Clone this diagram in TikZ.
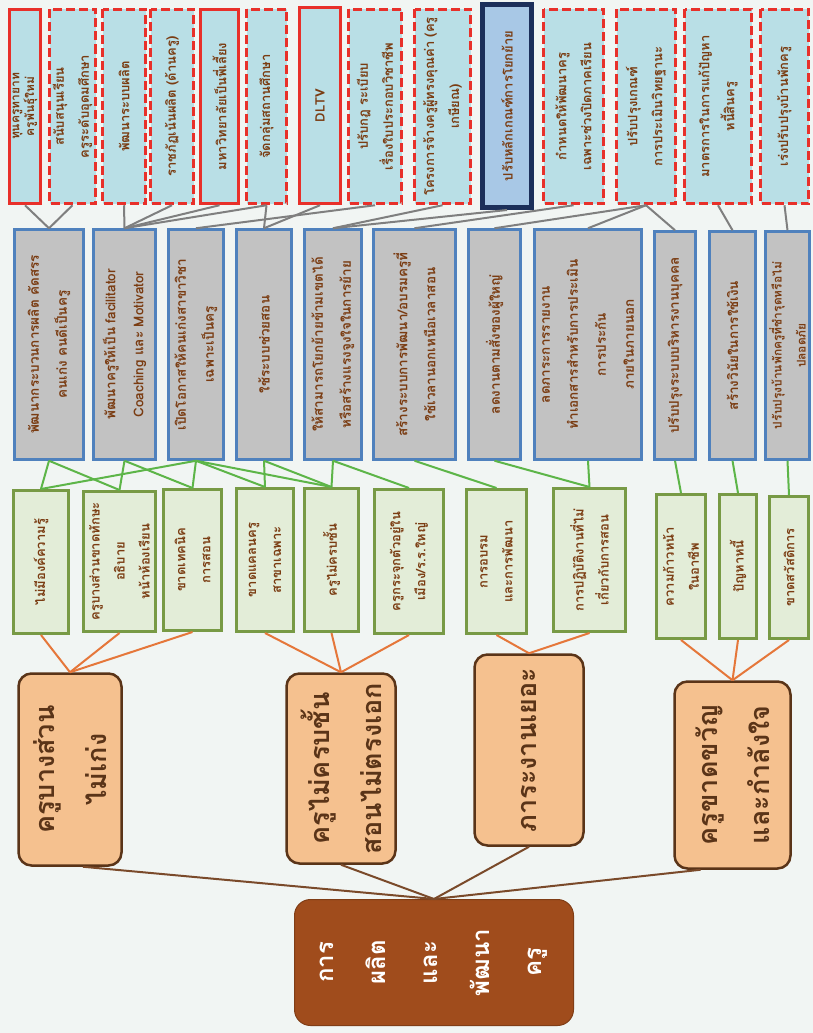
\documentclass[tikz,border=0pt]{standalone}
\usepackage{fontspec}
\newfontfamily\thaifont[Script=Thai]{Loma}
\definecolor{bgc}{HTML}{F1F5F3}
\definecolor{redc}{HTML}{E8302A}
\definecolor{lblue}{HTML}{B9DFE6}
\definecolor{lblueb}{HTML}{A8C8E6}
\definecolor{navyc}{HTML}{1C2F5A}
\definecolor{bluec}{HTML}{4F81BD}
\definecolor{grayc}{HTML}{C2C2C2}
\definecolor{greenc}{HTML}{789A45}
\definecolor{lgreen}{HTML}{E3EDD8}
\definecolor{peach}{HTML}{F5C18F}
\definecolor{dbrown}{HTML}{5A3418}
\definecolor{rootc}{HTML}{A04C1C}
\definecolor{txtc}{HTML}{7A3C12}
\definecolor{linkgray}{HTML}{7F7F7F}
\definecolor{linkgreen}{HTML}{5DB548}
\definecolor{linkorange}{HTML}{E5773A}
\definecolor{linkbrown}{HTML}{7A4A2A}
\newcommand\myboxfont{\thaifont\bfseries\fontsize{13}{25}\selectfont}
\newcommand\mybluefont{\thaifont\bfseries\fontsize{13.5}{28}\selectfont}
\newcommand\mysmallbluefont{\thaifont\bfseries\fontsize{12}{24}\selectfont}
\newcommand\mytightfont{\thaifont\bfseries\fontsize{12}{13}\selectfont}
\newcommand\mybigfont{\thaifont\bfseries\fontsize{27}{52}\selectfont}
\newcommand\myrootfont{\thaifont\bfseries\fontsize{24}{52}\selectfont}
\newcommand\bx[7]{\node[#2, minimum width={(#6)-(#4)-3}, minimum height={(#5)-(#3)-3}] (#1) at ({((#3)+(#5))/2},{((#4)+(#6))/2}) {#7};}
\tikzset{
  basebox/.style={rotate=90, align=center, inner sep=1pt, font=\myboxfont, text=txtc},
  redbox/.style={basebox, draw=redc, line width=3.5pt, fill=lblue},
  reddash/.style={redbox, dash pattern=on 9pt off 4pt},
  navybox/.style={basebox, draw=navyc, line width=5pt, fill=lblueb},
  bluebox/.style={basebox, draw=bluec, line width=2.5pt, fill=grayc, font=\mybluefont},
  greenbox/.style={basebox, draw=greenc, line width=3pt, fill=lgreen},
  orangebox/.style={rotate=90, align=center, inner sep=2pt, draw=dbrown, line width=2.5pt, fill=peach, rounded corners=13pt, font=\mybigfont, text=dbrown},
  rootbox/.style={rotate=90, align=center, inner sep=2pt, draw=rootc!80!black, line width=1pt, fill=rootc, rounded corners=16pt, font=\myrootfont, text=white},
  graylink/.style={draw=linkgray, line width=2pt},
  greenlink/.style={draw=linkgreen, line width=2pt},
  orangelink/.style={draw=linkorange, line width=2pt},
  brownlink/.style={draw=linkbrown, line width=2pt},
}
\begin{document}
\begin{tikzpicture}[x=1pt,y=-1pt]
\fill[bgc] (0,0) rectangle (813,1033);
\useasboundingbox (0,0) rectangle (813,1033);
% red row
\bx{r1}{redbox, font=\mytightfont}{8}{8}{42}{205}{ทุนครูทายาท\\ครูพันธุ์ใหม่}
\bx{r2}{reddash}{48}{8}{97}{205}{สนับสนุนเรียน\\ครูระดับอุดมศึกษา}
\bx{r3}{reddash}{101}{8}{147}{205}{พัฒนาระบบผลิต}
\bx{r4}{reddash}{149}{8}{195}{205}{ราชภัฏเน้นผลิต (ด้านครู)}
\bx{r5}{redbox}{199}{8}{240}{205}{มหาวิทยาลัยเป็นพี่เลี้ยง}
\bx{r6}{reddash}{245}{8}{288}{205}{จัดกลุ่มสถานศึกษา}
\bx{r7}{redbox}{298}{6}{342}{205}{DLTV}
\bx{r8}{reddash}{347}{8}{403}{205}{ปรับกฎ ระเบียบ\\เรื่องใบประกอบวิชาชีพ}
\bx{r9}{reddash}{413}{8}{472}{205}{โครงการจ้างครูผู้ทรงคุณค่า (ครู\\เกษียณ)}
\bx{r10}{navybox}{481}{3}{533}{209}{ปรับหลักเกณฑ์การโยกย้าย}
\bx{r11}{reddash}{542}{8}{605}{205}{กำหนดให้พัฒนาครู\\เฉพาะช่วงปิดภาคเรียน}
\bx{r12}{reddash}{615}{8}{677}{205}{ปรับปรุงเกณฑ์\\การประเมินวิทยฐานะ}
\bx{r13}{reddash}{683}{8}{753}{205}{มาตรการในการแก้ปัญหา\\หนี้สินครู}
\bx{r14}{reddash}{759}{8}{810}{205}{เร่งปรับปรุงบ้านพักครู}
% blue row
\bx{b1}{bluebox}{13}{228}{85}{461}{พัฒนากระบวนการผลิต คัดสรร\\คนเก่ง คนดีเป็นครู}
\bx{b2}{bluebox}{92}{228}{157}{461}{พัฒนาครูให้เป็น facilitator\\Coaching และ Motivator}
\bx{b3}{bluebox}{167}{228}{225}{461}{เปิดโอกาสให้คนเก่งสาขาวิชา\\เฉพาะเป็นครู}
\bx{b4}{bluebox}{235}{228}{293}{461}{ใช้ระบบช่วยสอน}
\bx{b5}{bluebox}{303}{228}{363}{461}{ให้สามารถโยกย้ายข้ามเขตได้\\หรือสร้างแรงจูงใจในการย้าย}
\bx{b6}{bluebox}{372}{228}{457}{461}{สร้างระบบการพัฒนา/อบรมครูที่\\ใช้เวลานอกเหนือเวลาสอน}
\bx{b7}{bluebox}{467}{228}{522}{461}{ลดงานตามสั่งของผู้ใหญ่}
\bx{b8}{bluebox}{533}{228}{643}{461}{ลดภาระการรายงาน\\ทำเอกสารสำหรับการประเมิน\\การประกัน\\ภายในภายนอก}
\bx{b9}{bluebox}{653}{230}{697}{461}{ปรับปรุงระบบบริหารงานบุคคล}
\bx{b10}{bluebox}{708}{230}{757}{461}{สร้างวินัยในการใช้เงิน}
\bx{b11}{bluebox, font=\mysmallbluefont}{764}{230}{811}{461}{ปรับปรุงบ้านพักครูที่ชำรุดหรือไม่\\ปลอดภัย}
% green row
\bx{g1}{greenbox}{12}{489}{70}{635}{ไม่มีองค์ความรู้}
\bx{g2}{greenbox}{82}{490}{157}{633}{ครูบางส่วนขาดทักษะ\\อธิบาย\\หน้าห้องเรียน}
\bx{g3}{greenbox}{162}{488}{223}{632}{ขาดเทคนิค\\การสอน}
\bx{g4}{greenbox}{235}{487}{295}{633}{ขาดแคลนครู\\สาขาเฉพาะ}
\bx{g5}{greenbox}{303}{487}{360}{633}{ครูไม่ครบชั้น}
\bx{g6}{greenbox}{373}{488}{445}{635}{ครูกระจุกตัวอยู่ใน\\เมือง/ร.ร.ใหญ่}
\bx{g7}{greenbox}{465}{488}{528}{635}{การอบรม\\และการพัฒนา}
\bx{g8}{greenbox}{552}{487}{627}{633}{การปฏิบัติงานที่ไม่\\เกี่ยวกับการสอน}
\bx{g9}{greenbox}{655}{493}{707}{640}{ความก้าวหน้า\\ในอาชีพ}
\bx{g10}{greenbox}{718}{493}{758}{640}{ปัญหาหนี้}
\bx{g11}{greenbox}{768}{495}{810}{640}{ขาดสวัสดิการ}
% orange row
\bx{o1}{orangebox}{17}{672}{123}{867}{ครูบางส่วน\\ไม่เก่ง}
\bx{o2}{orangebox}{285}{672}{397}{865}{ครูไม่ครบชั้น\\สอนไม่ตรงเอก}
\bx{o3}{orangebox}{473}{653}{585}{847}{ภาระงานเยอะ}
\bx{o4}{orangebox}{673}{680}{792}{870}{ครูขาดขวัญ\\และกำลังใจ}
% root
\bx{root}{rootbox}{293}{898}{575}{1027}{การ\\ผลิต\\และ\\พัฒนา\\ครู}
% root -> orange
\draw[brownlink] (root.east) -- ([xshift=13pt]o1.west);
\draw[brownlink] (root.east) -- (o2.west);
\draw[brownlink] (root.east) -- (o3.west);
\draw[brownlink] (root.east) -- ([xshift=-32pt]o4.west);
% orange -> green
\foreach \o/\g in {o1/g1,o1/g2,o1/g3,o2/g4,o2/g5,o2/g6,o3/g7,o3/g8,o4/g9,o4/g10,o4/g11}
  \draw[orangelink] (\o.east) -- (\g.west);
% green -> blue
\foreach \g/\b in {g1/b1,g2/b1,g2/b2,g3/b2,g1/b3,g3/b3,g4/b3,g5/b3,g4/b4,g5/b4,g5/b5,g6/b5,g7/b6,g8/b7,g8/b8,g9/b9,g10/b10,g11/b11}
  \draw[greenlink] (\g.east) -- (\b.west);
% blue -> red
\foreach \b/\r in {b1/r1,b1/r2,b2/r3,b2/r4,b2/r5,b2/r6,b3/r8,b4/r6,b4/r7,b5/r9,b5/r10,b6/r11,b7/r12,b8/r12,b9/r12,b10/r13,b11/r14}
  \draw[graylink] (\b.east) -- (\r.west);
\end{tikzpicture}
\end{document}
